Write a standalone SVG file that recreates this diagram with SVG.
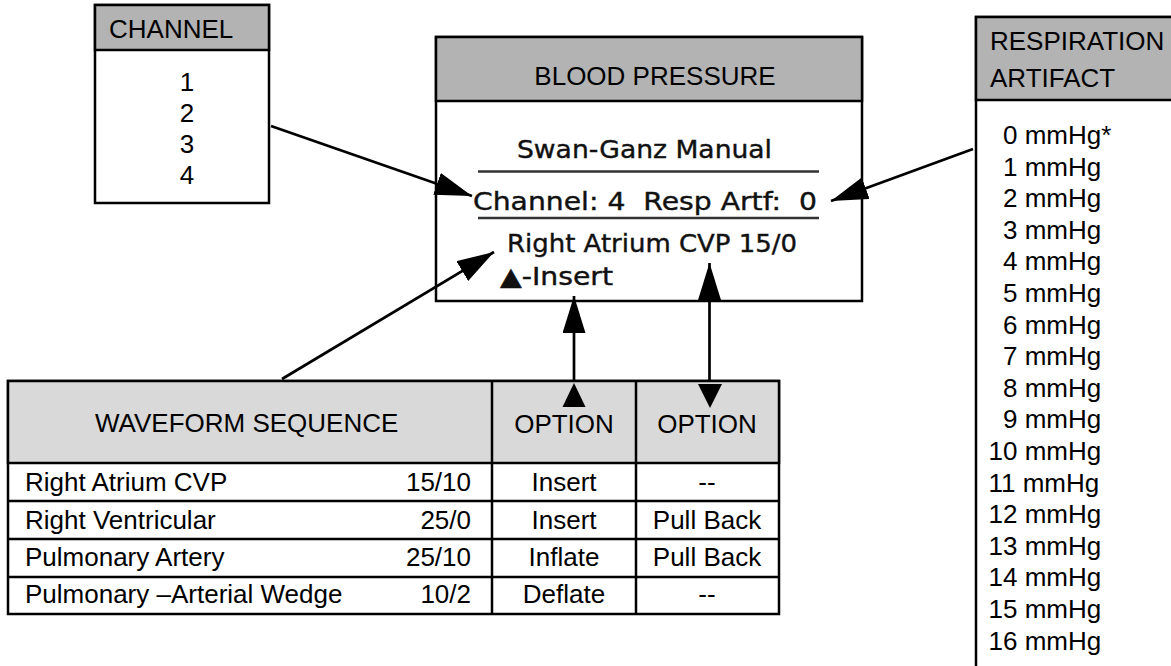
<svg xmlns="http://www.w3.org/2000/svg" width="1171" height="666" viewBox="0 0 1171 666">
<style>
.box{fill:#fff;stroke:#000;stroke-width:2.5}
.hd{fill:#b3b3b3;stroke:#000;stroke-width:2.5}
.hl{fill:#d9d9d9;stroke:#000;stroke-width:2.5}
.ln{stroke:#000;stroke-width:2.5;fill:none}
.t{font-family:"Liberation Sans",Arial,sans-serif;font-size:26px;fill:#000}
.c{text-anchor:middle}
.e{text-anchor:end}
.lcd{font-family:"DejaVu Sans","Liberation Sans",sans-serif;font-size:25px;fill:#111;stroke:#111;stroke-width:0.4}
.sep{stroke:#333;stroke-width:2.5}
.con{stroke:#000;stroke-width:2.7;fill:none}
.tri{fill:#000}
</style>
<defs>
<marker id="ah" markerUnits="userSpaceOnUse" markerWidth="38" markerHeight="24" refX="37" refY="11.5" orient="auto" viewBox="0 0 38 24">
<path d="M0,0 L37,11.5 L0,23 z" fill="#000"/>
</marker>
</defs>
<rect width="1171" height="666" fill="#fff"/>

<g id="channel">
<rect class="box" x="95" y="5" width="174" height="198"/>
<rect class="hd" x="95" y="5" width="174" height="45"/>
<text class="t" x="109" y="38">CHANNEL</text>
<text class="t c" x="187" y="91">1</text>
<text class="t c" x="187" y="122">2</text>
<text class="t c" x="187" y="153">3</text>
<text class="t c" x="187" y="184">4</text>
</g>

<g id="blood-pressure">
<rect class="box" x="436" y="37" width="426" height="264"/>
<rect class="hd" x="436" y="37" width="426" height="64"/>
<text class="t c" x="655" y="85">BLOOD PRESSURE</text>
<text class="lcd" x="517" y="158" textLength="255" lengthAdjust="spacingAndGlyphs">Swan-Ganz Manual</text>
<line class="sep" x1="478" y1="171.5" x2="819" y2="171.5"/>
<text class="lcd" x="473" y="210" textLength="344" lengthAdjust="spacingAndGlyphs" xml:space="preserve">Channel: 4  Resp Artf:  0</text>
<line class="sep" x1="478" y1="218" x2="819" y2="218"/>
<text class="lcd" x="507" y="252" textLength="290" lengthAdjust="spacingAndGlyphs">Right Atrium CVP 15/0</text>
<text class="lcd" x="500" y="285" textLength="113" lengthAdjust="spacingAndGlyphs">▲-Insert</text>
</g>

<g id="respiration-artifact">
<rect class="box" x="976" y="17" width="210" height="680"/>
<rect class="hd" x="976" y="17" width="210" height="83"/>
<text class="t" x="990" y="50">RESPIRATION</text>
<text class="t" x="990" y="87">ARTIFACT</text>
<text class="t" x="1003" y="144">0 mmHg*</text>
<text class="t" x="1003" y="175.6">1 mmHg</text>
<text class="t" x="1003" y="207.2">2 mmHg</text>
<text class="t" x="1003" y="238.8">3 mmHg</text>
<text class="t" x="1003" y="270.4">4 mmHg</text>
<text class="t" x="1003" y="302">5 mmHg</text>
<text class="t" x="1003" y="333.6">6 mmHg</text>
<text class="t" x="1003" y="365.2">7 mmHg</text>
<text class="t" x="1003" y="396.8">8 mmHg</text>
<text class="t" x="1003" y="428.4">9 mmHg</text>
<text class="t" x="988.5" y="460">10 mmHg</text>
<text class="t" x="988.5" y="491.6">11 mmHg</text>
<text class="t" x="988.5" y="523.2">12 mmHg</text>
<text class="t" x="988.5" y="554.8">13 mmHg</text>
<text class="t" x="988.5" y="586.4">14 mmHg</text>
<text class="t" x="988.5" y="618">15 mmHg</text>
<text class="t" x="988.5" y="649.6">16 mmHg</text>
</g>

<g id="waveform-table">
<rect class="box" x="8" y="381" width="771" height="233"/>
<rect class="hl" x="8" y="381" width="771" height="82"/>
<line class="ln" x1="8" y1="501" x2="779" y2="501"/>
<line class="ln" x1="8" y1="539" x2="779" y2="539"/>
<line class="ln" x1="8" y1="577" x2="779" y2="577"/>
<line class="ln" x1="492" y1="381" x2="492" y2="614"/>
<line class="ln" x1="636" y1="381" x2="636" y2="614"/>
<text class="t" x="95" y="432">WAVEFORM SEQUENCE</text>
<text class="t c" x="564" y="433">OPTION</text>
<text class="t c" x="707" y="433">OPTION</text>
<text class="t" x="25" y="491">Right Atrium CVP</text>
<text class="t e" x="471" y="491">15/10</text>
<text class="t c" x="564" y="491">Insert</text>
<text class="t c" x="707" y="491">--</text>
<text class="t" x="25" y="529">Right Ventricular</text>
<text class="t e" x="471" y="529">25/0</text>
<text class="t c" x="564" y="529">Insert</text>
<text class="t c" x="707" y="529">Pull Back</text>
<text class="t" x="25" y="566">Pulmonary Artery</text>
<text class="t e" x="471" y="566">25/10</text>
<text class="t c" x="564" y="566">Inflate</text>
<text class="t c" x="707" y="566">Pull Back</text>
<text class="t" x="25" y="603">Pulmonary –Arterial Wedge</text>
<text class="t e" x="471" y="603">10/2</text>
<text class="t c" x="564" y="603">Deflate</text>
<text class="t c" x="707" y="603">--</text>
</g>

<g id="connectors">
<line class="con" x1="271" y1="126" x2="472" y2="196" marker-end="url(#ah)"/>
<line class="con" x1="282" y1="379" x2="494" y2="252" marker-end="url(#ah)"/>
<line class="con" x1="973" y1="149" x2="831" y2="201" marker-end="url(#ah)"/>
<line class="con" x1="574" y1="381" x2="574" y2="296" marker-end="url(#ah)"/>
<line class="con" x1="709.5" y1="381" x2="709.5" y2="263" marker-end="url(#ah)"/>
<polygon class="tri" points="574,383 562.5,407 585.5,407"/>
<polygon class="tri" points="698,384 722,384 710,408"/>
</g>
</svg>
